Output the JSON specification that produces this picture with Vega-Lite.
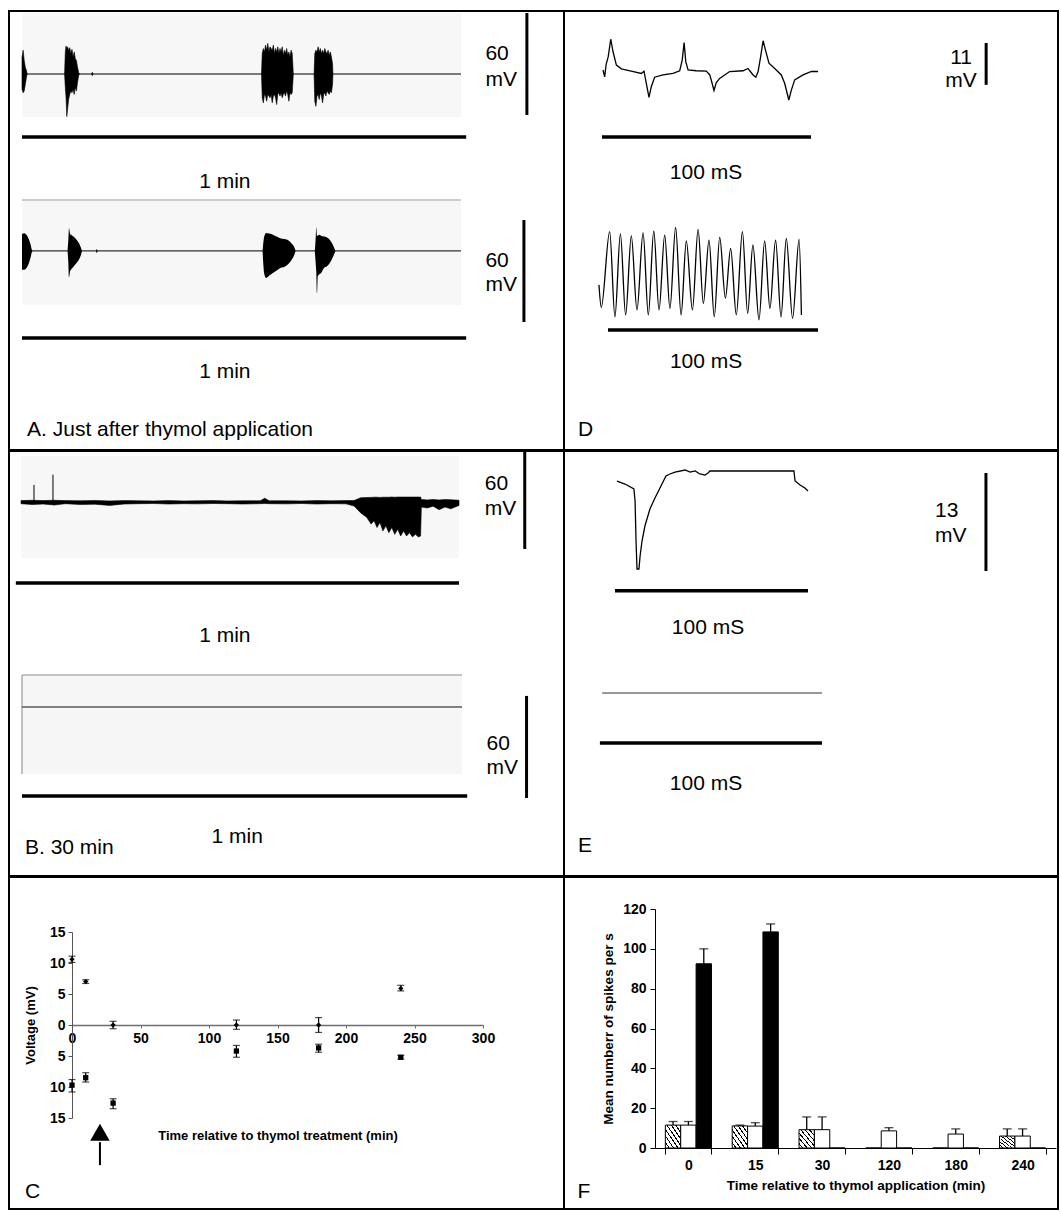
{
"$schema": "https://vega.github.io/schema/vega-lite/v6.json",
"padding": {"left": 8, "top": 10, "right": 0, "bottom": 0},
"autosize": {"type": "pad"},
"background": "white",
"spacing": -2,
"config": {
  "view": {"stroke": "black", "strokeWidth": 2},
  "font": "Liberation Sans",
  "text": {"font": "Liberation Sans", "fontSize": 21, "color": "black", "baseline": "middle"},
  "axis": {"grid": false, "labelFont": "Liberation Sans", "titleFont": "Liberation Sans", "labelColor": "black", "titleColor": "black"}
},
"datasets": {
  "a1": [
    {"b":1,"t":0,"hi":10,"lo":-9},{"b":1,"t":0.15,"hi":14,"lo":-11},{"b":1,"t":0.3,"hi":8,"lo":-10},{"b":1,"t":0.45,"hi":4,"lo":-6},{"b":1,"t":0.6,"hi":2,"lo":-2},{"b":1,"t":0.7,"hi":0,"lo":0},
    {"b":2,"t":5.75,"hi":0,"lo":0},{"b":2,"t":5.85,"hi":13,"lo":-8},{"b":2,"t":5.95,"hi":16.5,"lo":-14},{"b":2,"t":6.05,"hi":15,"lo":-25},{"b":2,"t":6.15,"hi":16,"lo":-21},{"b":2,"t":6.3,"hi":14,"lo":-15},{"b":2,"t":6.45,"hi":15.5,"lo":-12},{"b":2,"t":6.6,"hi":12,"lo":-10},{"b":2,"t":6.75,"hi":14.5,"lo":-11},{"b":2,"t":6.9,"hi":10,"lo":-9},{"b":2,"t":7.05,"hi":13,"lo":-12},{"b":2,"t":7.2,"hi":9,"lo":-8},{"b":2,"t":7.35,"hi":8,"lo":-10},{"b":2,"t":7.5,"hi":4,"lo":-5},{"b":2,"t":7.65,"hi":1,"lo":-1},{"b":2,"t":7.75,"hi":0,"lo":0},
    {"b":3,"t":32.35,"hi":0,"lo":0},{"b":3,"t":32.45,"hi":12,"lo":-14},{"b":3,"t":32.6,"hi":15,"lo":-17},{"b":3,"t":32.75,"hi":13,"lo":-12},{"b":3,"t":32.9,"hi":17,"lo":-13},{"b":3,"t":33.05,"hi":14,"lo":-16},{"b":3,"t":33.2,"hi":18,"lo":-12},{"b":3,"t":33.35,"hi":13,"lo":-13},{"b":3,"t":33.5,"hi":16,"lo":-14},{"b":3,"t":33.65,"hi":15,"lo":-12},{"b":3,"t":33.8,"hi":14,"lo":-17},{"b":3,"t":33.95,"hi":17,"lo":-13},{"b":3,"t":34.1,"hi":12,"lo":-12},{"b":3,"t":34.25,"hi":15,"lo":-14},{"b":3,"t":34.4,"hi":13,"lo":-18},{"b":3,"t":34.55,"hi":16,"lo":-12},{"b":3,"t":34.7,"hi":12,"lo":-11},{"b":3,"t":34.85,"hi":15,"lo":-13},{"b":3,"t":35.0,"hi":13,"lo":-11},{"b":3,"t":35.15,"hi":16,"lo":-14},{"b":3,"t":35.3,"hi":11,"lo":-12},{"b":3,"t":35.45,"hi":14,"lo":-11},{"b":3,"t":35.6,"hi":12,"lo":-13},{"b":3,"t":35.75,"hi":15,"lo":-10},{"b":3,"t":35.9,"hi":11,"lo":-12},{"b":3,"t":36.05,"hi":13,"lo":-16},{"b":3,"t":36.2,"hi":10,"lo":-11},{"b":3,"t":36.35,"hi":14,"lo":-12},{"b":3,"t":36.5,"hi":12,"lo":-11},{"b":3,"t":36.6,"hi":4,"lo":-4},{"b":3,"t":36.65,"hi":0,"lo":0},
    {"b":4,"t":39.45,"hi":0,"lo":0},{"b":4,"t":39.55,"hi":12,"lo":-16},{"b":4,"t":39.7,"hi":14,"lo":-19},{"b":4,"t":39.85,"hi":13,"lo":-13},{"b":4,"t":40.0,"hi":16,"lo":-12},{"b":4,"t":40.15,"hi":13,"lo":-15},{"b":4,"t":40.3,"hi":15,"lo":-11},{"b":4,"t":40.45,"hi":12,"lo":-13},{"b":4,"t":40.6,"hi":14,"lo":-17},{"b":4,"t":40.75,"hi":12,"lo":-12},{"b":4,"t":40.9,"hi":15,"lo":-11},{"b":4,"t":41.05,"hi":13,"lo":-13},{"b":4,"t":41.2,"hi":12,"lo":-10},{"b":4,"t":41.35,"hi":14,"lo":-11},{"b":4,"t":41.5,"hi":11,"lo":-12},{"b":4,"t":41.65,"hi":13,"lo":-10},{"b":4,"t":41.8,"hi":10,"lo":-11},{"b":4,"t":41.95,"hi":6,"lo":-6},{"b":4,"t":42.0,"hi":0,"lo":0},
    {"b":5,"t":9.4,"hi":0,"lo":0},{"b":5,"t":9.5,"hi":1,"lo":-1},{"b":5,"t":9.6,"hi":0,"lo":0}
  ],
  "a2": [
    {"b":1,"t":0,"hi":10,"lo":-11},{"b":1,"t":0.3,"hi":10.5,"lo":-11},{"b":1,"t":0.6,"hi":9.5,"lo":-10},{"b":1,"t":0.9,"hi":7,"lo":-7.5},{"b":1,"t":1.15,"hi":4,"lo":-4},{"b":1,"t":1.35,"hi":0.5,"lo":-0.5},{"b":1,"t":1.4,"hi":0,"lo":0},
    {"b":2,"t":6.15,"hi":0,"lo":0},{"b":2,"t":6.25,"hi":6,"lo":-6},{"b":2,"t":6.35,"hi":13.5,"lo":-15.5},{"b":2,"t":6.5,"hi":10,"lo":-12},{"b":2,"t":6.8,"hi":9,"lo":-10},{"b":2,"t":7.1,"hi":8,"lo":-8.5},{"b":2,"t":7.4,"hi":6.5,"lo":-7},{"b":2,"t":7.7,"hi":4.5,"lo":-5},{"b":2,"t":7.95,"hi":2,"lo":-2.5},{"b":2,"t":8.1,"hi":0,"lo":0},
    {"b":3,"t":32.5,"hi":0,"lo":0},{"b":3,"t":32.6,"hi":5,"lo":-8},{"b":3,"t":32.75,"hi":9,"lo":-14},{"b":3,"t":33.0,"hi":10.6,"lo":-15.9},{"b":3,"t":33.4,"hi":10.3,"lo":-14.5},{"b":3,"t":33.9,"hi":9.6,"lo":-13},{"b":3,"t":34.4,"hi":8.5,"lo":-11.5},{"b":3,"t":34.9,"hi":7.5,"lo":-10},{"b":3,"t":35.4,"hi":7,"lo":-9.5},{"b":3,"t":35.9,"hi":6.5,"lo":-8},{"b":3,"t":36.3,"hi":5,"lo":-6},{"b":3,"t":36.6,"hi":3.5,"lo":-4},{"b":3,"t":36.85,"hi":1.5,"lo":-1.5},{"b":3,"t":36.95,"hi":0,"lo":0},
    {"b":4,"t":39.55,"hi":0,"lo":0},{"b":4,"t":39.65,"hi":6,"lo":-6},{"b":4,"t":39.75,"hi":14,"lo":-12},{"b":4,"t":39.85,"hi":9,"lo":-24.7},{"b":4,"t":39.95,"hi":9,"lo":-15},{"b":4,"t":40.1,"hi":9.5,"lo":-14},{"b":4,"t":40.4,"hi":9,"lo":-13},{"b":4,"t":40.8,"hi":8.5,"lo":-10},{"b":4,"t":41.2,"hi":8,"lo":-9},{"b":4,"t":41.6,"hi":6.5,"lo":-7},{"b":4,"t":41.95,"hi":4,"lo":-4},{"b":4,"t":42.2,"hi":1.5,"lo":-1.5},{"b":4,"t":42.35,"hi":0,"lo":0},
    {"b":5,"t":10.0,"hi":0,"lo":0},{"b":5,"t":10.1,"hi":1.2,"lo":-1.2},{"b":5,"t":10.2,"hi":0,"lo":0}
  ],
  "b1": [
    {"t":0,"hi":0.8,"lo":-1},{"t":1.5,"hi":1,"lo":-1.5},{"t":3,"hi":0.8,"lo":-1.2},{"t":4.5,"hi":1,"lo":-1.8},{"t":6,"hi":0.8,"lo":-1},{"t":8,"hi":0.7,"lo":-1.5},{"t":10,"hi":0.9,"lo":-1.3},{"t":12,"hi":0.6,"lo":-2},{"t":14,"hi":0.8,"lo":-1.2},{"t":16,"hi":0.7,"lo":-1},{"t":18,"hi":0.6,"lo":-0.9},{"t":20,"hi":0.8,"lo":-1.2},{"t":22,"hi":0.6,"lo":-1},{"t":24,"hi":0.7,"lo":-1.1},{"t":26,"hi":0.8,"lo":-0.9},{"t":28,"hi":0.6,"lo":-1},{"t":30,"hi":0.7,"lo":-1.2},{"t":32.4,"hi":0.7,"lo":-1},{"t":33,"hi":2.2,"lo":-0.9},{"t":33.6,"hi":0.7,"lo":-1},{"t":36,"hi":0.7,"lo":-1.1},{"t":38,"hi":0.6,"lo":-0.9},{"t":40,"hi":0.8,"lo":-1.2},{"t":42,"hi":0.7,"lo":-1},{"t":44,"hi":0.8,"lo":-1.1},{"t":45.1,"hi":0.9,"lo":-2.4},{"t":46,"hi":2.5,"lo":-6.4},{"t":46.8,"hi":2.6,"lo":-9},{"t":47.4,"hi":2.7,"lo":-13},{"t":47.8,"hi":2.8,"lo":-11},{"t":48.2,"hi":2.8,"lo":-15},{"t":48.6,"hi":2.7,"lo":-12},{"t":49,"hi":2.8,"lo":-17},{"t":49.4,"hi":2.8,"lo":-14},{"t":49.8,"hi":2.8,"lo":-18},{"t":50.2,"hi":2.9,"lo":-15},{"t":50.6,"hi":2.8,"lo":-19},{"t":51,"hi":2.9,"lo":-16},{"t":51.4,"hi":2.9,"lo":-20},{"t":51.8,"hi":2.9,"lo":-17},{"t":52.2,"hi":2.9,"lo":-20},{"t":52.6,"hi":2.9,"lo":-18},{"t":53,"hi":2.9,"lo":-20.5},{"t":53.4,"hi":2.9,"lo":-19},{"t":53.8,"hi":2.9,"lo":-20.5},{"t":54.1,"hi":2.9,"lo":-20},{"t":54.2,"hi":1.5,"lo":-3},{"t":55,"hi":1.2,"lo":-3.5},{"t":55.8,"hi":1.5,"lo":-2.5},{"t":56.6,"hi":1.2,"lo":-4.5},{"t":57.4,"hi":1.4,"lo":-3},{"t":58.2,"hi":1.3,"lo":-4},{"t":59.3,"hi":1,"lo":-2}
  ],
  "d1": [
    {"t":0,"v":0},{"t":0.8,"v":-1.8},{"t":1.5,"v":1.5},{"t":2.5,"v":3.5},{"t":3.7,"v":8.1},{"t":4.8,"v":4.8},{"t":6.4,"v":1.3},{"t":8.8,"v":0.3},{"t":13.5,"v":-0.3},{"t":18.3,"v":-0.9},{"t":19.6,"v":-0.3},{"t":20.4,"v":-2.6},{"t":22.0,"v":-7.2},{"t":23.1,"v":-4.4},{"t":24.7,"v":-1.9},{"t":28.7,"v":-1.3},{"t":33.5,"v":-0.9},{"t":36.7,"v":-0.2},{"t":37.9,"v":2.6},{"t":38.8,"v":7.2},{"t":39.6,"v":2.2},{"t":40.7,"v":0},{"t":44.6,"v":-0.2},{"t":49.4,"v":-0.3},{"t":51.1,"v":-1.3},{"t":52.0,"v":-3.1},{"t":53.1,"v":-5.4},{"t":54.2,"v":-3.3},{"t":55.8,"v":-2.2},{"t":60.6,"v":-0.4},{"t":67.0,"v":-0.2},{"t":69.4,"v":0.4},{"t":70.2,"v":-0.2},{"t":71.8,"v":-1.3},{"t":73.1,"v":-1.9},{"t":74.2,"v":-0.4},{"t":75.3,"v":3.1},{"t":76.6,"v":7.7},{"t":77.7,"v":5.3},{"t":79.4,"v":1.8},{"t":82.9,"v":0},{"t":85.3,"v":-1.3},{"t":86.9,"v":-3.5},{"t":88.9,"v":-7.9},{"t":90.1,"v":-5.3},{"t":91.7,"v":-2.6},{"t":95.7,"v":-1.3},{"t":99.7,"v":-0.4},{"t":102.9,"v":-0.4}
  ],
  "d2": [
    {"t":-4.3,"v":-2.6},{"t":-3.2,"v":-8.5},{"t":0.8,"v":11.4},{"t":3.3,"v":-11.0},{"t":5.9,"v":10.8},{"t":8.4,"v":-10.5},{"t":11.1,"v":10.3},{"t":13.8,"v":-9.2},{"t":16.7,"v":11.1},{"t":19.2,"v":-10.5},{"t":21.8,"v":11.6},{"t":24.3,"v":-9.2},{"t":27.0,"v":10.5},{"t":29.5,"v":-8.8},{"t":32.2,"v":12.5},{"t":34.8,"v":-10.5},{"t":37.3,"v":9.0},{"t":40.2,"v":-9.2},{"t":42.9,"v":12.0},{"t":45.4,"v":-7.5},{"t":48.1,"v":9.2},{"t":50.6,"v":-11.0},{"t":53.2,"v":9.9},{"t":55.9,"v":-6.1},{"t":58.4,"v":7.0},{"t":61.1,"v":-10.5},{"t":64.0,"v":11.4},{"t":66.5,"v":-10.1},{"t":69.0,"v":7.9},{"t":71.9,"v":-11.8},{"t":74.6,"v":9.0},{"t":77.1,"v":-8.8},{"t":79.8,"v":9.2},{"t":82.4,"v":-11.0},{"t":84.9,"v":9.6},{"t":87.9,"v":-11.4},{"t":91.0,"v":9.4},{"t":92.1,"v":-10.5}
  ],
  "e1": [
    {"t":1.0,"v":-1.07},{"t":5.2,"v":-1.47},{"t":9.8,"v":-2.13},{"t":10.4,"v":-3.73},{"t":10.9,"v":-9.07},{"t":11.4,"v":-12.8},{"t":12.4,"v":-12.8},{"t":13.0,"v":-11.07},{"t":14.0,"v":-9.07},{"t":15.5,"v":-7.07},{"t":18.1,"v":-4.8},{"t":20.7,"v":-3.33},{"t":23.3,"v":-2.0},{"t":26.4,"v":-0.4},{"t":28.5,"v":-0.13},{"t":31.1,"v":0.13},{"t":36.3,"v":0.4},{"t":38.9,"v":0.13},{"t":41.5,"v":0.27},{"t":44.0,"v":-0.13},{"t":46.6,"v":-0.27},{"t":48.2,"v":0},{"t":49.2,"v":0.27},{"t":54.4,"v":0.27},{"t":92.7,"v":0.27},{"t":93.3,"v":-1.07},{"t":95.9,"v":-1.6},{"t":98.4,"v":-2.0},{"t":100,"v":-2.4}
  ],
  "cpts": [
    {"s":"up","t":0,"v":10.6,"lo":10.1,"hi":11.1},
    {"s":"up","t":10,"v":7.0,"lo":6.7,"hi":7.3},
    {"s":"up","t":30,"v":0,"lo":-0.6,"hi":0.6},
    {"s":"up","t":120,"v":0,"lo":-0.7,"hi":0.8},
    {"s":"up","t":180,"v":0,"lo":-1.2,"hi":1.2},
    {"s":"up","t":240,"v":5.9,"lo":5.5,"hi":6.4},
    {"s":"down","t":0,"v":-9.7,"lo":-10.8,"hi":-8.8},
    {"s":"down","t":10,"v":-8.5,"lo":-9.2,"hi":-7.7},
    {"s":"down","t":30,"v":-12.6,"lo":-13.5,"hi":-11.9},
    {"s":"down","t":120,"v":-4.2,"lo":-5.2,"hi":-3.3},
    {"s":"down","t":180,"v":-3.7,"lo":-4.4,"hi":-3.1},
    {"s":"down","t":240,"v":-5.2,"lo":-5.5,"hi":-4.9}
  ],
  "fbars": [
    {"time":"0","cond":"hatched","mean":11.5,"err":13.3},
    {"time":"0","cond":"white","mean":11.5,"err":13.3},
    {"time":"0","cond":"black","mean":92.5,"err":100},
    {"time":"15","cond":"hatched","mean":11.1,"err":11.5},
    {"time":"15","cond":"white","mean":11.0,"err":12.7},
    {"time":"15","cond":"black","mean":108.5,"err":112.5},
    {"time":"30","cond":"hatched","mean":9.2,"err":15.6},
    {"time":"30","cond":"white","mean":9.2,"err":15.6},
    {"time":"30","cond":"black","mean":0,"err":null},
    {"time":"120","cond":"hatched","mean":0,"err":null},
    {"time":"120","cond":"white","mean":8.6,"err":10.2},
    {"time":"120","cond":"black","mean":0,"err":null},
    {"time":"180","cond":"hatched","mean":0,"err":null},
    {"time":"180","cond":"white","mean":7.0,"err":9.6},
    {"time":"180","cond":"black","mean":0,"err":null},
    {"time":"240","cond":"hatched","mean":6.0,"err":9.6},
    {"time":"240","cond":"white","mean":6.0,"err":9.6},
    {"time":"240","cond":"black","mean":0,"err":null}
  ]
},
"vconcat": [
{
 "spacing": 0, "bounds": "flush",
 "hconcat": [
  {
   "width": 555, "height": 439,
   "resolve": {"scale": {"x": "independent", "y": "independent"}},
   "layer": [
    {"layer": [
      {"data": {"values": [{"t0":0,"t1":59.3,"v0":-25.3,"v1":35.9}]}, "mark": {"type":"rect","fill":"#f7f7f7"},
       "encoding": {"x": {"field":"t0","type":"quantitative","scale":{"domain":[0,59.3],"range":[13,452],"nice":false,"zero":false},"axis":null},"x2":{"field":"t1"},
                    "y": {"field":"v0","type":"quantitative","scale":{"domain":[-25.3,35.9],"range":[106,2],"nice":false,"zero":false},"axis":null},"y2":{"field":"v1"}}},
      {"data": {"values": [{"t":0,"v":0},{"t":59.3,"v":0}]}, "mark": {"type":"line","color":"black","strokeWidth":1.2},
       "encoding": {"x": {"field":"t","type":"quantitative","axis":null},"y":{"field":"v","type":"quantitative","axis":null}}},
      {"data": {"name":"a1"}, "mark": {"type":"area","color":"black","stroke":"black","strokeWidth":0.6},
       "encoding": {"x": {"field":"t","type":"quantitative","axis":null},"y":{"field":"hi","type":"quantitative","axis":null},"y2":{"field":"lo"},"detail":{"field":"b","type":"nominal"}}},
      {"data": {"values": [{"t0":0,"t1":60,"v":-37.1}]}, "mark": {"type":"rule","color":"black","strokeWidth":3.5},
       "encoding": {"x": {"field":"t0","type":"quantitative","axis":null},"x2":{"field":"t1"},"y":{"field":"v","type":"quantitative","axis":null}}},
      {"data": {"values": [{"t":68.2,"v0":35.9,"v1":-24.1}]}, "mark": {"type":"rule","color":"black","strokeWidth":3},
       "encoding": {"x": {"field":"t","type":"quantitative","axis":null},"y":{"field":"v0","type":"quantitative","axis":null},"y2":{"field":"v1"}}},
      {"data": {"values": [{"t":27.4,"v":-63.5,"label":"1 min"}]}, "mark": {"type":"text","align":"center"},
       "encoding": {"x": {"field":"t","type":"quantitative","axis":null},"y":{"field":"v","type":"quantitative","axis":null},"text":{"field":"label","type":"nominal"}}},
      {"data": {"values": [{"t":62.6,"v":11.8,"label":"60"},{"t":62.6,"v":-3.5,"label":"mV"}]}, "mark": {"type":"text","align":"left"},
       "encoding": {"x": {"field":"t","type":"quantitative","axis":null},"y":{"field":"v","type":"quantitative","axis":null},"text":{"field":"label","type":"nominal"}}}
    ]},
    {"layer": [
      {"data": {"values": [{"t0":0,"t1":59.3,"v0":-31.8,"v1":30}]}, "mark": {"type":"rect","fill":"#f7f7f7"},
       "encoding": {"x": {"field":"t0","type":"quantitative","scale":{"domain":[0,59.3],"range":[13,452],"nice":false,"zero":false},"axis":null},"x2":{"field":"t1"},
                    "y": {"field":"v0","type":"quantitative","scale":{"domain":[-31.8,30],"range":[294,189],"nice":false,"zero":false},"axis":null},"y2":{"field":"v1"}}},
      {"data": {"values": [{"t0":0,"t1":59.3,"v":30}]}, "mark": {"type":"rule","color":"#bdbdbd","strokeWidth":1.5},
       "encoding": {"x": {"field":"t0","type":"quantitative","axis":null},"x2":{"field":"t1"},"y":{"field":"v","type":"quantitative","axis":null}}},
      {"data": {"values": [{"t":0,"v":0},{"t":59.3,"v":0}]}, "mark": {"type":"line","color":"#333333","strokeWidth":1.2},
       "encoding": {"x": {"field":"t","type":"quantitative","axis":null},"y":{"field":"v","type":"quantitative","axis":null}}},
      {"data": {"name":"a2"}, "mark": {"type":"area","color":"black","interpolate":"monotone"},
       "encoding": {"x": {"field":"t","type":"quantitative","axis":null},"y":{"field":"hi","type":"quantitative","axis":null},"y2":{"field":"lo"},"detail":{"field":"b","type":"nominal"}}},
      {"data": {"values": [{"t0":0,"t1":60,"v":-51.2}]}, "mark": {"type":"rule","color":"black","strokeWidth":3.5},
       "encoding": {"x": {"field":"t0","type":"quantitative","axis":null},"x2":{"field":"t1"},"y":{"field":"v","type":"quantitative","axis":null}}},
      {"data": {"values": [{"t":67.8,"v0":18.2,"v1":-41.8}]}, "mark": {"type":"rule","color":"black","strokeWidth":3},
       "encoding": {"x": {"field":"t","type":"quantitative","axis":null},"y":{"field":"v0","type":"quantitative","axis":null},"y2":{"field":"v1"}}},
      {"data": {"values": [{"t":27.4,"v":-71.2,"label":"1 min"}]}, "mark": {"type":"text","align":"center"},
       "encoding": {"x": {"field":"t","type":"quantitative","axis":null},"y":{"field":"v","type":"quantitative","axis":null},"text":{"field":"label","type":"nominal"}}},
      {"data": {"values": [{"t":62.6,"v":-6,"label":"60"},{"t":62.6,"v":-20,"label":"mV"},{"t":0.68,"v":-105.3,"label":"A. Just after thymol application"}]}, "mark": {"type":"text","align":"left"},
       "encoding": {"x": {"field":"t","type":"quantitative","axis":null},"y":{"field":"v","type":"quantitative","axis":null},"text":{"field":"label","type":"nominal"}}}
    ]}
   ]
  },
  {
   "width": 494, "height": 439,
   "resolve": {"scale": {"x": "independent", "y": "independent"}},
   "layer": [
    {"layer": [
      {"data": {"name":"d1"}, "mark": {"type":"line","color":"black","strokeWidth":1.3},
       "encoding": {"x": {"field":"t","type":"quantitative","scale":{"domain":[0,103],"range":[39,254.3],"nice":false,"zero":false},"axis":null},
                    "y": {"field":"v","type":"quantitative","scale":{"domain":[-8,8.5],"range":[89.4,26.7],"nice":false,"zero":false},"axis":null}}},
      {"data": {"values": [{"t0":-0.5,"t1":99.5,"v":-17.6}]}, "mark": {"type":"rule","color":"black","strokeWidth":3.5},
       "encoding": {"x": {"field":"t0","type":"quantitative","axis":null},"x2":{"field":"t1"},"y":{"field":"v","type":"quantitative","axis":null}}},
      {"data": {"values": [{"t":183.3,"v0":7.1,"v1":-3.9}]}, "mark": {"type":"rule","color":"black","strokeWidth":3},
       "encoding": {"x": {"field":"t","type":"quantitative","axis":null},"y":{"field":"v0","type":"quantitative","axis":null},"y2":{"field":"v1"}}},
      {"data": {"values": [{"t":49.3,"v":-27.1,"label":"100 mS"},{"t":171.3,"v":3.2,"label":"11"},{"t":171.3,"v":-2.8,"label":"mV"}]}, "mark": {"type":"text","align":"center"},
       "encoding": {"x": {"field":"t","type":"quantitative","axis":null},"y":{"field":"v","type":"quantitative","axis":null},"text":{"field":"label","type":"nominal"}}}
    ]},
    {"layer": [
      {"data": {"name":"d2"}, "mark": {"type":"line","color":"black","strokeWidth":1.3,"interpolate":"monotone"},
       "encoding": {"x": {"field":"t","type":"quantitative","scale":{"domain":[0,100],"range":[44,254],"nice":false,"zero":false},"axis":null},
                    "y": {"field":"v","type":"quantitative","scale":{"domain":[-12,12],"range":[309.6,218.4],"nice":false,"zero":false},"axis":null}}},
      {"data": {"values": [{"t0":0,"t1":100,"v":-14.5}]}, "mark": {"type":"rule","color":"black","strokeWidth":3.5},
       "encoding": {"x": {"field":"t0","type":"quantitative","axis":null},"x2":{"field":"t1"},"y":{"field":"v","type":"quantitative","axis":null}}},
      {"data": {"values": [{"t":46.7,"v":-22.9,"label":"100 mS"}]}, "mark": {"type":"text","align":"center"},
       "encoding": {"x": {"field":"t","type":"quantitative","axis":null},"y":{"field":"v","type":"quantitative","axis":null},"text":{"field":"label","type":"nominal"}}},
      {"data": {"values": [{"t":-14.3,"v":-40.8,"label":"D"}]}, "mark": {"type":"text","align":"left"},
       "encoding": {"x": {"field":"t","type":"quantitative","axis":null},"y":{"field":"v","type":"quantitative","axis":null},"text":{"field":"label","type":"nominal"}}}
    ]}
   ]
  }
 ]
},
{
 "spacing": 0, "bounds": "flush",
 "hconcat": [
  {
   "width": 555, "height": 425,
   "resolve": {"scale": {"x": "independent", "y": "independent"}},
   "layer": [
    {"layer": [
      {"data": {"values": [{"t0":0,"t1":59.3,"v0":-32.9,"v1":27}]}, "mark": {"type":"rect","fill":"#f7f7f7"},
       "encoding": {"x": {"field":"t0","type":"quantitative","scale":{"domain":[0,59.3],"range":[12,450],"nice":false,"zero":false},"axis":null},"x2":{"field":"t1"},
                    "y": {"field":"v0","type":"quantitative","scale":{"domain":[-32.9,27],"range":[107,5],"nice":false,"zero":false},"axis":null},"y2":{"field":"v1"}}},
      {"data": {"name":"b1"}, "mark": {"type":"area","color":"black","stroke":"black","strokeWidth":0.6},
       "encoding": {"x": {"field":"t","type":"quantitative","axis":null},"y":{"field":"hi","type":"quantitative","axis":null},"y2":{"field":"lo"}}},
      {"data": {"values": [{"t":1.76,"v0":0,"v1":10},{"t":4.33,"v0":0,"v1":16}]}, "mark": {"type":"rule","color":"black","strokeWidth":1},
       "encoding": {"x": {"field":"t","type":"quantitative","axis":null},"y":{"field":"v0","type":"quantitative","axis":null},"y2":{"field":"v1"}}},
      {"data": {"values": [{"t0":-0.7,"t1":59.3,"v":-47.6}]}, "mark": {"type":"rule","color":"black","strokeWidth":3.5},
       "encoding": {"x": {"field":"t0","type":"quantitative","axis":null},"x2":{"field":"t1"},"y":{"field":"v","type":"quantitative","axis":null}}},
      {"data": {"values": [{"t":68.2,"v0":29.4,"v1":-27.6}]}, "mark": {"type":"rule","color":"black","strokeWidth":3},
       "encoding": {"x": {"field":"t","type":"quantitative","axis":null},"y":{"field":"v0","type":"quantitative","axis":null},"y2":{"field":"v1"}}},
      {"data": {"values": [{"t":27.6,"v":-78.8,"label":"1 min"}]}, "mark": {"type":"text","align":"center"},
       "encoding": {"x": {"field":"t","type":"quantitative","axis":null},"y":{"field":"v","type":"quantitative","axis":null},"text":{"field":"label","type":"nominal"}}},
      {"data": {"values": [{"t":62.8,"v":10.5,"label":"60"},{"t":62.8,"v":-4,"label":"mV"}]}, "mark": {"type":"text","align":"left"},
       "encoding": {"x": {"field":"t","type":"quantitative","axis":null},"y":{"field":"v","type":"quantitative","axis":null},"text":{"field":"label","type":"nominal"}}}
    ]},
    {"layer": [
      {"data": {"values": [{"t0":0,"t1":59.3,"v0":-39.4,"v1":18.8}]}, "mark": {"type":"rect","fill":"#f6f6f6"},
       "encoding": {"x": {"field":"t0","type":"quantitative","scale":{"domain":[0,59.3],"range":[13,453],"nice":false,"zero":false},"axis":null},"x2":{"field":"t1"},
                    "y": {"field":"v0","type":"quantitative","scale":{"domain":[-39.4,18.8],"range":[323,224],"nice":false,"zero":false},"axis":null},"y2":{"field":"v1"}}},
      {"data": {"values": [{"t0":0,"t1":59.3,"v":18.8}]}, "mark": {"type":"rule","color":"#b0b0b0","strokeWidth":1.5},
       "encoding": {"x": {"field":"t0","type":"quantitative","axis":null},"x2":{"field":"t1"},"y":{"field":"v","type":"quantitative","axis":null}}},
      {"data": {"values": [{"t":0,"v0":18.8,"v1":-39.4}]}, "mark": {"type":"rule","color":"#999999","strokeWidth":1.2},
       "encoding": {"x": {"field":"t","type":"quantitative","axis":null},"y":{"field":"v0","type":"quantitative","axis":null},"y2":{"field":"v1"}}},
      {"data": {"values": [{"t":0,"v":0},{"t":59.3,"v":0}]}, "mark": {"type":"line","color":"#5a5a5a","strokeWidth":1.5},
       "encoding": {"x": {"field":"t","type":"quantitative","axis":null},"y":{"field":"v","type":"quantitative","axis":null}}},
      {"data": {"values": [{"t0":0,"t1":60,"v":-52.4}]}, "mark": {"type":"rule","color":"black","strokeWidth":3.5},
       "encoding": {"x": {"field":"t0","type":"quantitative","axis":null},"x2":{"field":"t1"},"y":{"field":"v","type":"quantitative","axis":null}}},
      {"data": {"values": [{"t":68,"v0":6.5,"v1":-53.5}]}, "mark": {"type":"rule","color":"black","strokeWidth":3},
       "encoding": {"x": {"field":"t","type":"quantitative","axis":null},"y":{"field":"v0","type":"quantitative","axis":null},"y2":{"field":"v1"}}},
      {"data": {"values": [{"t":29,"v":-76.5,"label":"1 min"}]}, "mark": {"type":"text","align":"center"},
       "encoding": {"x": {"field":"t","type":"quantitative","axis":null},"y":{"field":"v","type":"quantitative","axis":null},"text":{"field":"label","type":"nominal"}}},
      {"data": {"values": [{"t":62.6,"v":-21.8,"label":"60"},{"t":62.6,"v":-35.8,"label":"mV"},{"t":0.4,"v":-82.9,"label":"B. 30 min"}]}, "mark": {"type":"text","align":"left"},
       "encoding": {"x": {"field":"t","type":"quantitative","axis":null},"y":{"field":"v","type":"quantitative","axis":null},"text":{"field":"label","type":"nominal"}}}
    ]}
   ]
  },
  {
   "width": 494, "height": 425,
   "resolve": {"scale": {"x": "independent", "y": "independent"}},
   "layer": [
    {"layer": [
      {"data": {"name":"e1"}, "mark": {"type":"line","color":"black","strokeWidth":1.3},
       "encoding": {"x": {"field":"t","type":"quantitative","scale":{"domain":[0,100],"range":[51,244],"nice":false,"zero":false},"axis":null},
                    "y": {"field":"v","type":"quantitative","scale":{"domain":[-13,1],"range":[119.5,14.5],"nice":false,"zero":false},"axis":null}}},
      {"data": {"values": [{"t0":0,"t1":100,"v":-15.7}]}, "mark": {"type":"rule","color":"black","strokeWidth":3.5},
       "encoding": {"x": {"field":"t0","type":"quantitative","axis":null},"x2":{"field":"t1"},"y":{"field":"v","type":"quantitative","axis":null}}},
      {"data": {"values": [{"t":192.2,"v0":0,"v1":-13.07}]}, "mark": {"type":"rule","color":"black","strokeWidth":3},
       "encoding": {"x": {"field":"t","type":"quantitative","axis":null},"y":{"field":"v0","type":"quantitative","axis":null},"y2":{"field":"v1"}}},
      {"data": {"values": [{"t":48.2,"v":-20.7,"label":"100 mS"}]}, "mark": {"type":"text","align":"center"},
       "encoding": {"x": {"field":"t","type":"quantitative","axis":null},"y":{"field":"v","type":"quantitative","axis":null},"text":{"field":"label","type":"nominal"}}},
      {"data": {"values": [{"t":165.8,"v":-5.07,"label":"13"},{"t":165.8,"v":-8.4,"label":"mV"}]}, "mark": {"type":"text","align":"left"},
       "encoding": {"x": {"field":"t","type":"quantitative","axis":null},"y":{"field":"v","type":"quantitative","axis":null},"text":{"field":"label","type":"nominal"}}}
    ]},
    {"layer": [
      {"data": {"values": [{"t":0.5,"v":0},{"t":100,"v":0}]}, "mark": {"type":"line","color":"#333333","strokeWidth":1},
       "encoding": {"x": {"field":"t","type":"quantitative","scale":{"domain":[0,100],"range":[37,258],"nice":false,"zero":false},"axis":null},
                    "y": {"field":"v","type":"quantitative","scale":{"domain":[-1,1],"range":[249.5,234.5],"nice":false,"zero":false},"axis":null}}},
      {"data": {"values": [{"t0":-0.5,"t1":100,"v":-6.67}]}, "mark": {"type":"rule","color":"black","strokeWidth":3.5},
       "encoding": {"x": {"field":"t0","type":"quantitative","axis":null},"x2":{"field":"t1"},"y":{"field":"v","type":"quantitative","axis":null}}},
      {"data": {"values": [{"t":47.5,"v":-12.1,"label":"100 mS"}]}, "mark": {"type":"text","align":"center"},
       "encoding": {"x": {"field":"t","type":"quantitative","axis":null},"y":{"field":"v","type":"quantitative","axis":null},"text":{"field":"label","type":"nominal"}}},
      {"data": {"values": [{"t":-10.4,"v":-20.4,"label":"E"}]}, "mark": {"type":"text","align":"left"},
       "encoding": {"x": {"field":"t","type":"quantitative","axis":null},"y":{"field":"v","type":"quantitative","axis":null},"text":{"field":"label","type":"nominal"}}}
    ]}
   ]
  }
 ]
},
{
 "spacing": 0, "bounds": "flush",
 "hconcat": [
  {
   "width": 555, "height": 332,
   "layer": [
    {"data": {"name":"cpts"}, "mark": {"type":"rule","color":"black","strokeWidth":1.2},
     "encoding": {
       "x": {"field":"t","type":"quantitative","scale":{"domain":[0,300],"range":[63,474],"nice":false,"zero":false},
             "axis":{"values":[0,50,100,150,200,250,300],"offset":-184,"labelFontSize":14,"labelFontWeight":"bold","labelFlush":false,"labelOverlap":false,"labelPadding":3,"tickSize":3,"domainColor":"#6e6e6e","domainWidth":1.5,"tickColor":"#6e6e6e","title":"Time relative to thymol treatment (min)","titleFontSize":13,"titleFontWeight":"bold","titleY":110,"titleBaseline":"middle"}},
       "y": {"field":"lo","type":"quantitative","scale":{"domain":[-15,15],"range":[241,55],"nice":false,"zero":false},
             "axis":{"values":[-15,-10,-5,0,5,10,15],"offset":-63,"labelExpr":"'' + abs(datum.value)","labelFontSize":14,"labelFontWeight":"bold","tickSize":4,"labelPadding":3,"domainColor":"#555555","tickColor":"#555555","title":"Voltage (mV)","titleFontSize":13,"titleFontWeight":"bold","titlePadding":12}},
       "y2": {"field":"hi"}}},
    {"data": {"name":"cpts"}, "mark": {"type":"tick","orient":"horizontal","size":7,"thickness":1.2,"color":"black"},
     "encoding": {"x": {"field":"t","type":"quantitative"},"y":{"field":"lo","type":"quantitative"}}},
    {"data": {"name":"cpts"}, "mark": {"type":"tick","orient":"horizontal","size":7,"thickness":1.2,"color":"black"},
     "encoding": {"x": {"field":"t","type":"quantitative"},"y":{"field":"hi","type":"quantitative"}}},
    {"data": {"name":"cpts"}, "mark": {"type":"point","filled":true,"color":"black","opacity":1,"size":28},
     "encoding": {"x": {"field":"t","type":"quantitative"},"y":{"field":"v","type":"quantitative"},
                  "shape":{"field":"s","type":"nominal","scale":{"domain":["up","down"],"range":["diamond","square"]},"legend":null}}},
    {"data": {"values": [{"t":20.4,"v":-17.3}]}, "mark": {"type":"point","shape":"triangle-up","filled":true,"color":"black","opacity":1,"size":380},
     "encoding": {"x": {"field":"t","type":"quantitative"},"y":{"field":"v","type":"quantitative"}}},
    {"data": {"values": [{"t":20.4,"v0":-18.9,"v1":-22.6}]}, "mark": {"type":"rule","color":"black","strokeWidth":2},
     "encoding": {"x": {"field":"t","type":"quantitative"},"y":{"field":"v0","type":"quantitative"},"y2":{"field":"v1"}}},
    {"data": {"values": [{"t":-34.3,"v":-26.9,"label":"C"}]}, "mark": {"type":"text","align":"left"},
     "encoding": {"x": {"field":"t","type":"quantitative"},"y":{"field":"v","type":"quantitative"},"text":{"field":"label","type":"nominal"}}}
   ]
  },
  {
   "width": 494, "height": 332,
   "data": {"name":"fbars"},
   "layer": [
    {"transform": [{"filter": "datum.cond === 'hatched'"}],
     "mark": {"type":"bar","stroke":"black","strokeWidth":1,
              "fill":{"gradient":"linear","x1":0,"y1":1,"x2":1,"y2":0,"stops":[{"offset":0,"color":"#ffffff"},{"offset":0.103,"color":"#ffffff"},{"offset":0.103,"color":"#000000"},{"offset":0.143,"color":"#000000"},{"offset":0.143,"color":"#ffffff"},{"offset":0.246,"color":"#ffffff"},{"offset":0.246,"color":"#000000"},{"offset":0.286,"color":"#000000"},{"offset":0.286,"color":"#ffffff"},{"offset":0.389,"color":"#ffffff"},{"offset":0.389,"color":"#000000"},{"offset":0.429,"color":"#000000"},{"offset":0.429,"color":"#ffffff"},{"offset":0.531,"color":"#ffffff"},{"offset":0.531,"color":"#000000"},{"offset":0.571,"color":"#000000"},{"offset":0.571,"color":"#ffffff"},{"offset":0.674,"color":"#ffffff"},{"offset":0.674,"color":"#000000"},{"offset":0.714,"color":"#000000"},{"offset":0.714,"color":"#ffffff"},{"offset":0.817,"color":"#ffffff"},{"offset":0.817,"color":"#000000"},{"offset":0.857,"color":"#000000"},{"offset":0.857,"color":"#ffffff"},{"offset":0.96,"color":"#ffffff"},{"offset":0.96,"color":"#000000"},{"offset":1,"color":"#000000"}]}},
     "encoding": {
       "x": {"field":"time","type":"nominal","sort":["0","15","30","120","180","240"],"scale":{"range":[91,492],"paddingInner":0.31,"paddingOuter":0.155},
             "axis":{"orient":"bottom","offset":-61,"labelAngle":0,"labelFontSize":14,"labelFontWeight":"bold","labelPadding":4,"tickBand":"extent","tickSize":6,"domainColor":"black","tickColor":"black","title":"Time relative to thymol application (min)","titleFontSize":13.5,"titleFontWeight":"bold","titleY":37,"titleBaseline":"middle"}},
       "xOffset": {"field":"cond","type":"nominal","scale":{"domain":["hatched","white","black"]}},
       "y": {"field":"mean","type":"quantitative","scale":{"domain":[0,120],"range":[271,32],"nice":false},
             "axis":{"orient":"left","offset":-91,"values":[0,20,40,60,80,100,120],"labelFontSize":14,"labelFontWeight":"bold","tickSize":5,"labelPadding":4,"domainColor":"black","tickColor":"black","title":"Mean numberr of spikes per s","titleFontSize":13.5,"titleFontWeight":"bold","titlePadding":7}}}},
    {"transform": [{"filter": "datum.cond === 'white'"}],
     "mark": {"type":"bar","stroke":"black","strokeWidth":1,"fill":"white"},
     "encoding": {"x": {"field":"time","type":"nominal","sort":["0","15","30","120","180","240"]},
                  "xOffset": {"field":"cond","type":"nominal","scale":{"domain":["hatched","white","black"]}},
                  "y": {"field":"mean","type":"quantitative"}}},
    {"transform": [{"filter": "datum.cond === 'black'"}],
     "mark": {"type":"bar","stroke":"black","strokeWidth":1,"fill":"black"},
     "encoding": {"x": {"field":"time","type":"nominal","sort":["0","15","30","120","180","240"]},
                  "xOffset": {"field":"cond","type":"nominal","scale":{"domain":["hatched","white","black"]}},
                  "y": {"field":"mean","type":"quantitative"}}},
    {"transform": [{"filter": "datum.err != null"}],
     "mark": {"type":"rule","color":"black","strokeWidth":1.3},
     "encoding": {"x": {"field":"time","type":"nominal","sort":["0","15","30","120","180","240"]},
                  "xOffset": {"field":"cond","type":"nominal","scale":{"domain":["hatched","white","black"]}},
                  "y": {"field":"mean","type":"quantitative"},"y2":{"field":"err"}}},
    {"transform": [{"filter": "datum.err != null"}],
     "mark": {"type":"tick","orient":"horizontal","size":9,"thickness":1.3,"color":"black"},
     "encoding": {"x": {"field":"time","type":"nominal","sort":["0","15","30","120","180","240"]},
                  "xOffset": {"field":"cond","type":"nominal","scale":{"domain":["hatched","white","black"]}},
                  "y": {"field":"err","type":"quantitative"}}},
    {"data": {"values": [{"time":"0","v":-22.1,"label":"F"}]},
     "mark": {"type":"text","align":"left","dx":-111},
     "encoding": {"x": {"field":"time","type":"nominal","sort":["0","15","30","120","180","240"]},
                  "y": {"field":"v","type":"quantitative"},"text":{"field":"label","type":"nominal"}}}
   ]
  }
 ]
}
]
}
